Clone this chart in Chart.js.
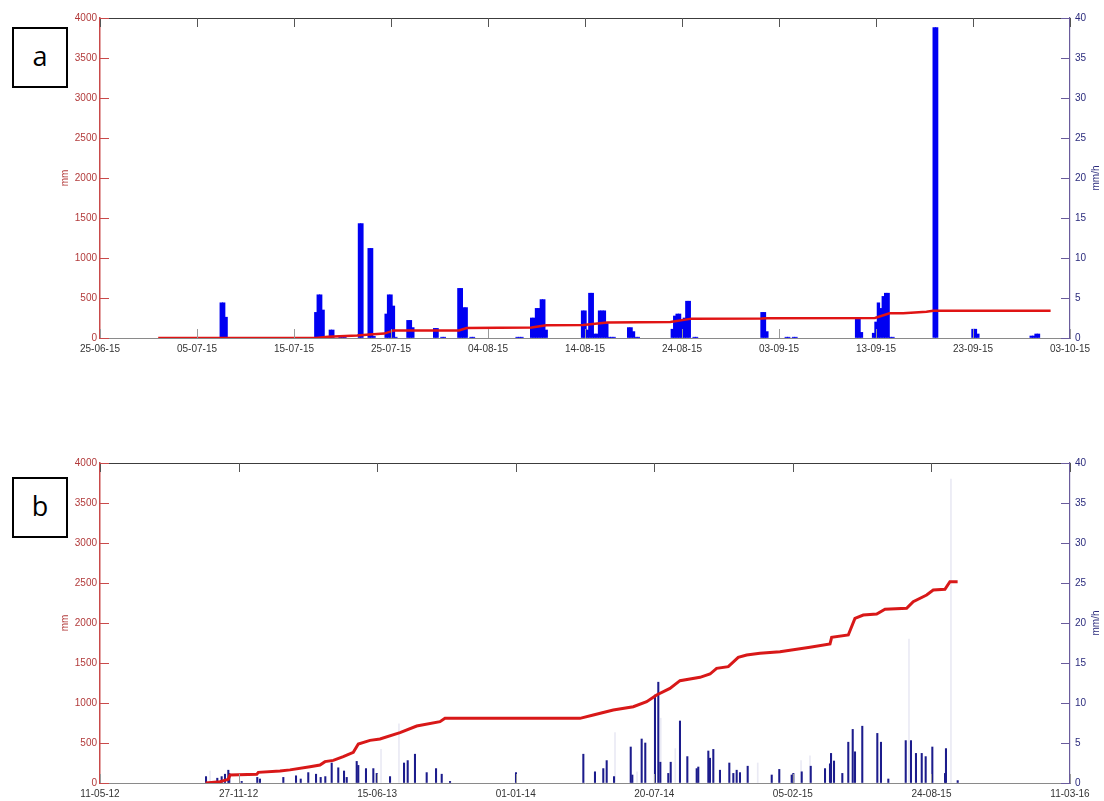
<!DOCTYPE html>
<html>
<head>
<meta charset="utf-8">
<script src="https://cdn.jsdelivr.net/npm/chart.js@4/dist/chart.umd.min.js"></script>
<style>
html,body{margin:0;padding:0;background:#fff;width:1104px;height:801px;overflow:hidden;}
canvas{position:absolute;left:0;}
#c1{top:0;}
#c2{top:440px;}
.lab{position:absolute;left:12px;width:52px;height:57px;border:2px solid #000;background:#fff;
 font-family:"Open Sans","Liberation Sans",sans-serif;font-size:27px;text-align:center;line-height:54px;color:#000;}
</style>
</head>
<body>
<canvas id="c1" width="1104" height="370"></canvas>
<canvas id="c2" width="1104" height="361"></canvas>
<div class="lab" style="top:27px;">a</div>
<div class="lab" style="top:477px;">b</div>
<script>
// ---------- Panel a (days since 25-06-15) ----------
const topTickLabels = ['25-06-15','05-07-15','15-07-15','25-07-15','04-08-15','14-08-15','24-08-15','03-09-15','13-09-15','23-09-15','03-10-15'];
const topRainDay = [12.5,12.75,13.0, 22.25,22.5,22.75,23.0, 23.75,24.0, 24.75,25.0,25.25, 26.75,27.0, 27.75,28.0,28.25,
  29.5,29.75,30.0,30.25,30.5, 31.75,32.0,32.25, 34.5,34.75,35.25,35.5, 37.0,37.25,37.5,37.75,38.25,38.5,
  43.0,43.25,43.5, 44.5,44.75,45.0,45.25,45.5,45.75,46.0,
  49.75,50.0,50.25,50.5,50.75,51.0,51.25,51.5,51.75,52.0,52.25,52.5,52.75,53.0,
  54.5,54.75,55.0,55.25,55.5, 59.0,59.25,59.5,59.75,60.0,60.25,60.5,60.75,61.25,61.5,
  68.25,68.5,68.75, 70.75,71.0,71.5,71.75, 78.0,78.25,78.5,
  79.75,80.0,80.25,80.5,80.75,81.0,81.25,81.5,81.75, 86.0,86.25, 90.0,90.25,90.5, 96.0,96.25,96.5,96.75];
const topRainRate = [4.4,4.4,2.6, 3.2,5.4,5.4,3.5, 1.0,1.0, 0.3,0.3,0.3, 14.3,14.3, 11.2,11.2,0.2,
  3.0,5.4,5.4,4.0,0.1, 2.2,2.2,1.3, 1.2,1.2,0.1,0.1, 6.2,6.2,3.8,3.8,0.1,0.1,
  0.1,0.1,0.1, 2.5,2.5,3.7,3.7,4.8,4.8,1.0,
  3.4,3.4,1.0,5.6,5.6,0.5,0.5,3.4,3.4,3.4,1.8,0.1,0.1,0.1,
  1.3,1.3,0.8,0.1,0.1, 1.1,2.75,3.0,3.0,2.25,2.5,4.6,4.6,0.1,0.1,
  3.2,3.2,0.8, 0.1,0.1,0.1,0.1, 2.4,2.4,0.7,
  0.6,2.0,4.4,3.7,5.2,5.6,5.6,0.1,0.1, 38.8,38.8, 1.1,1.1,0.5, 0.25,0.25,0.5,0.5];
const topCumDay = [6.0,22.3,23.5,26.5,27.8,29.3,30.3,37.0,37.8,44.5,46.0,49.8,52.3,58.8,61.0,68.2,68.8,79.9,81.4,82.8,85.2,85.9,98.0];
const topCumMm  = [0,0,15,30,45,55,95,95,125,130,160,162,195,200,242,244,248,250,308,310,329,342,342];

// ---------- Panel b (days since 11-05-12) ----------
const botTickLabels = ['11-05-12','27-11-12','15-06-13','01-01-14','20-07-14','05-02-15','24-08-15','11-03-16'];
const botRainDay = [153.0,169.3,175.6,180.4,185.2,186.6,204.5,227.0,230.9,264.6,282.9,289.7,300.6,311.8,318.5,325.2,334.4,343.9,352.2,356.1,
  370.5,372.8,383.9,394.5,399.4,418.6,438.8,444.1,454.6,471.5,485.0,493.2,505.2,600.4,
  697.6,714.4,726.4,731.3,741.9,766.0,768.3,781.8,787.0,801.0,805.8,808.7,820.2,823.7,837.1,847.7,861.2,863.5,878.0,880.4,885.2,894.8,
  908.3,914.1,918.9,923.7,934.8,969.5,980.4,998.3,1000.7,1012.8,1025.8,1046.4,1053.6,1055.1,1059.4,1071.4,1080.0,1086.4,1089.7,1100.2,
  1121.9,1127.2,1137.8,1162.9,1170.5,1177.7,1186.0,1191.7,1201.3,1219.6,1221.0,1237.9];
const botRainRate = [0.8,0.6,0.8,1.1,1.6,1.2,0.2,0.7,0.5,0.7,0.9,0.5,1.3,1.1,0.7,0.8,2.5,1.9,1.5,0.7,
  2.7,2.2,1.8,1.8,1.2,0.8,2.5,2.8,3.6,1.3,1.8,1.1,0.2,1.3,
  3.6,1.4,1.8,2.8,0.8,4.5,1.0,5.5,5.0,11.0,12.6,2.6,1.2,2.6,7.75,3.3,1.8,2.0,4.0,3.1,4.2,1.6,
  2.5,1.2,1.6,1.3,2.1,1.0,1.7,1.0,1.2,1.4,2.1,1.8,2.4,3.7,2.75,1.2,5.1,6.7,3.9,7.1,
  6.2,5.1,0.5,5.3,5.3,3.7,3.7,3.3,4.5,1.2,4.3,0.3];
const botFaintDay  = [158.8,405.6,431.5,743.3,775.1,809.3,830.3,949.3,1011.8,1024.7,1167.6,1228.2];
const botFaintRate = [1.5,4.2,7.4,6.3,1.4,8.1,4.3,2.5,2.8,3.4,18,38];
const botCumDay = [152.5,173.2,185.2,187.6,226.2,228.5,259.8,274.2,303.1,317.5,324.7,336.7,351.1,365.6,372.8,389.7,404.1,433,457.1,490.7,497.9,
  692.7,712,740.8,769.7,789,803.4,822.6,837.1,866,880.4,890,906.8,921.2,933.3,952.5,981.4,1024.7,1053.6,1056,1080,1089.6,1101.6,1121,1133,
  1164.2,1173.7,1193.1,1202.6,1219.5,1226.7,1237.8];
const botCumMm = [0,16,46,100,108,133,150,164,204,225,267,283,329,383,487,533,550,629,712,767,808,
  808,850,912,954,1017,1100,1183,1279,1321,1362,1433,1454,1571,1600,1621,1642,1696,1737,1821,1850,2058,2100,2112,2171,
  2183,2267,2350,2412,2421,2517,2517];

const FONT = '"Liberation Sans", Arial, sans-serif';
const RED_TXT = '#b23a3a', RED_AX = '#c94a4a', NAVY_TXT = '#2a2a7c', NAVY_AX = '#6a5c9c';

const pts = (xs, ys) => xs.map((x, i) => ({x, y: ys[i]}));

const frame = {
  id: 'frame',
  afterDraw(chart) {
    const {ctx, chartArea: {left, right, top, bottom}, scales} = chart;
    ctx.save();
    ctx.lineWidth = 1;
    ctx.strokeStyle = '#3c3c3c';
    ctx.beginPath(); ctx.moveTo(left, top + 0.5); ctx.lineTo(right, top + 0.5); ctx.stroke();
    const L = 9;
    scales.x.ticks.forEach(t => {
      const px = Math.round(scales.x.getPixelForValue(t.value)) + 0.5;
      ctx.strokeStyle = '#9a9a9a';
      ctx.beginPath(); ctx.moveTo(px, bottom); ctx.lineTo(px, bottom - L); ctx.stroke();
      ctx.strokeStyle = '#555';
      ctx.beginPath(); ctx.moveTo(px, top); ctx.lineTo(px, top + L); ctx.stroke();
    });
    ctx.strokeStyle = RED_AX;
    scales.y.ticks.forEach(t => {
      const py = Math.round(scales.y.getPixelForValue(t.value)) + 0.5;
      ctx.beginPath(); ctx.moveTo(left, py); ctx.lineTo(left + L, py); ctx.stroke();
    });
    ctx.strokeStyle = NAVY_AX;
    scales.y1.ticks.forEach(t => {
      const py = Math.round(scales.y1.getPixelForValue(t.value)) + 0.5;
      ctx.beginPath(); ctx.moveTo(right - L, py); ctx.lineTo(right, py); ctx.stroke();
    });
    // right axis title (rotated, reading bottom to top)
    ctx.fillStyle = NAVY_TXT;
    ctx.font = '10px ' + FONT;
    ctx.translate(1096, (top + bottom) / 2);
    ctx.rotate(-Math.PI / 2);
    ctx.textAlign = 'center';
    ctx.textBaseline = 'middle';
    ctx.fillText('mm/h', 0, 0);
    ctx.restore();
  }
};

function build(canvasId, o) {
  return new Chart(document.getElementById(canvasId), {
    type: 'bar',
    data: {
      datasets: [
        {type: 'line', data: pts(o.cumDay, o.cumMm), yAxisID: 'y', borderColor: o.lineColor, borderWidth: o.lineWidth,
         pointRadius: 0, tension: 0, fill: false, order: 0},
        ...o.bars.map(b => ({type: 'bar', data: pts(b.day, b.rate), yAxisID: 'y1', backgroundColor: b.color,
         borderWidth: 0, barThickness: b.thick, grouped: false, order: b.order}))
      ]
    },
    options: {
      responsive: false, animation: false, devicePixelRatio: 1,
      layout: {padding: {top: o.padTop, left: 0, right: 0, bottom: 0}},
      plugins: {legend: {display: false}, tooltip: {enabled: false}},
      scales: {
        x: {
          type: 'linear', position: 'bottom', min: 0, max: o.xMax, offset: false,
          grid: {display: true, drawOnChartArea: false, drawTicks: false},
          border: {display: true, color: '#8a8a8a', width: 1},
          ticks: {stepSize: o.xStep, autoSkip: false, maxRotation: 0, padding: 5, color: '#333',
                  font: {family: FONT, size: 10},
                  callback: v => o.tickLabels[Math.round(v / o.xStep)]},
          afterFit: s => { s.height = o.xH; }
        },
        y: {
          type: 'linear', position: 'left', min: 0, max: 4000,
          grid: {display: true, drawOnChartArea: false, drawTicks: false},
          border: {display: true, color: RED_AX, width: 1.5},
          ticks: {stepSize: 500, padding: 3, color: RED_TXT, font: {family: FONT, size: 10}, callback: v => String(v)},
          title: {display: true, text: 'mm', color: RED_TXT, font: {family: FONT, size: 10}, padding: {top: 59, bottom: 0}},
          afterFit: s => { s.width = 100; }
        },
        y1: {
          type: 'linear', position: 'right', min: 0, max: 40,
          grid: {display: true, drawOnChartArea: false, drawTicks: false},
          border: {display: true, color: NAVY_AX, width: 1.2},
          ticks: {stepSize: 5, padding: 5, color: NAVY_TXT, font: {family: FONT, size: 10}, callback: v => String(v)},
          afterFit: s => { s.width = 34; }
        }
      }
    },
    plugins: [frame]
  });
}

build('c1', {
  tickLabels: topTickLabels, xMax: 100, xStep: 10, padTop: 18, xH: 32,
  cumDay: topCumDay, cumMm: topCumMm, lineColor: '#e01414', lineWidth: 2.5,
  bars: [{day: topRainDay, rate: topRainRate, color: '#0000f2', thick: 2.7, order: 2}]
});

build('c2', {
  tickLabels: botTickLabels, xMax: 1400, xStep: 200, padTop: 23, xH: 18,
  cumDay: botCumDay, cumMm: botCumMm, lineColor: '#d81818', lineWidth: 3,
  bars: [
    {day: botFaintDay, rate: botFaintRate, color: 'rgba(150,150,200,0.2)', thick: 1, order: 3},
    {day: botRainDay, rate: botRainRate, color: '#1c1c8c', thick: 1.4, order: 2}
  ]
});
</script>
</body>
</html>
